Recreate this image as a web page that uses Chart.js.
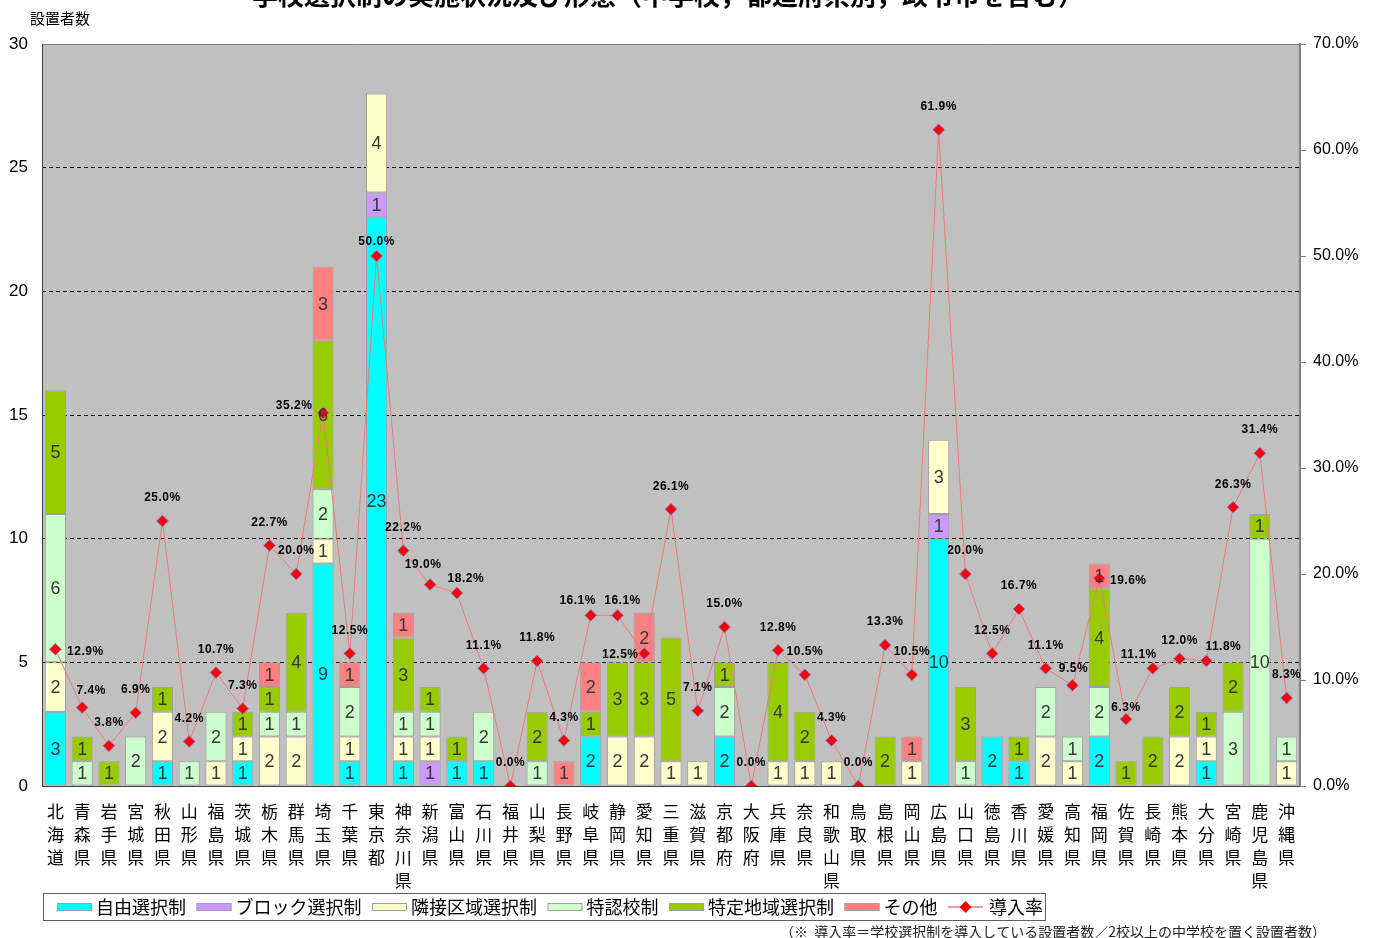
<!DOCTYPE html>
<html><head><meta charset="utf-8">
<script src="https://cdn.jsdelivr.net/npm/chart.js@4/dist/chart.umd.min.js"></script>
<style>html,body{margin:0;padding:0;background:#fff;overflow:hidden}</style>
</head><body><canvas id="c" width="1373" height="938"></canvas>
<script>
const prefectures = ['北海道','青森県','岩手県','宮城県','秋田県','山形県','福島県','茨城県','栃木県','群馬県','埼玉県','千葉県','東京都','神奈川県','新潟県','富山県','石川県','福井県','山梨県','長野県','岐阜県','静岡県','愛知県','三重県','滋賀県','京都府','大阪府','兵庫県','奈良県','和歌山県','鳥取県','島根県','岡山県','広島県','山口県','徳島県','香川県','愛媛県','高知県','福岡県','佐賀県','長崎県','熊本県','大分県','宮崎県','鹿児島県','沖縄県'];
const jiyu     = [3,0,0,0,1,0,0,1,0,0,9,1,23,1,0,1,1,0,0,0,2,0,0,0,0,2,0,0,0,0,0,0,0,10,0,2,1,0,0,2,0,0,0,1,0,0,0];
const block    = [0,0,0,0,0,0,0,0,0,0,0,0,1,0,1,0,0,0,0,0,0,0,0,0,0,0,0,0,0,0,0,0,0,1,0,0,0,0,0,0,0,0,0,0,0,0,0];
const rinsetsu = [2,0,0,0,2,0,1,1,2,2,1,1,4,1,1,0,0,0,0,0,0,2,2,1,1,0,0,1,1,1,0,0,1,3,0,0,0,2,1,0,0,0,2,1,0,0,1];
const tokunin  = [6,1,0,2,0,1,2,0,1,1,2,2,0,1,1,0,2,0,1,0,0,0,0,0,0,2,0,0,0,0,0,0,0,0,1,0,0,2,1,2,0,0,0,0,3,10,1];
const tokutei  = [5,1,1,0,1,0,0,1,1,4,6,0,0,3,1,1,0,0,2,0,1,3,3,5,0,1,0,4,2,0,0,2,0,0,3,0,1,0,0,4,1,2,2,1,2,1,0];
const sonota   = [0,0,0,0,0,0,0,0,1,0,3,1,0,1,0,0,0,0,0,1,2,0,2,0,0,0,0,0,0,0,0,0,1,0,0,0,0,0,0,1,0,0,0,0,0,0,0];
const rates    = [12.9,7.4,3.8,6.9,25.0,4.2,10.7,7.3,22.7,20.0,35.2,12.5,50.0,22.2,19.0,18.2,11.1,0.0,11.8,4.3,16.1,16.1,12.5,26.1,7.1,15.0,0.0,12.8,10.5,4.3,0.0,13.3,10.5,61.9,20.0,12.5,16.7,11.1,9.5,19.6,6.3,11.1,12.0,11.8,26.3,31.4,8.3];
const leftTicks = [0,5,10,15,20,25,30];
const rightTicks = [0,10,20,30,40,50,60,70];
const seriesNames = ['自由選択制','ブロック選択制','隣接区域選択制','特認校制','特定地域選択制','その他'];
const rateName = '導入率';
const titleText = '学校選択制の実施状況及び形態（中学校，都道府県別，政令市を含む）';
const yTitle = '設置者数';
const footnote = '（※  導入率＝学校選択制を導入している設置者数／2校以上の中学校を置く設置者数）';

const colors = ['#00FFFF','#CC99FF','#FFFFCC','#CCFFCC','#99CC00','#FF8080'];
// label placement tweaks (pixel offsets of the rate label centre from its point)
const rateLabelShift = {0:[30,2],1:[9,-17],10:[-29,-7],12:[0,-14],14:[-7,-20],15:[9,-14],20:[-13,-15],21:[5,-15],22:[-24,1],38:[1,-17],39:[29,2],40:[0,-12],41:[-14,-14],42:[0,-18],43:[17,-14]};
const JP = '"Noto Sans CJK JP","Noto Sans",sans-serif';

const barData = [jiyu, block, rinsetsu, tokunin, tokutei, sonota];
const datasets = barData.map((d,i)=>({
  type:'bar', label:seriesNames[i], data:d, backgroundColor:colors[i],
  borderColor:'#A0A0A0', borderWidth:1, yAxisID:'y', order:1,
  categoryPercentage:1, barPercentage:0.79, borderSkipped:false
}));
datasets.push({
  type:'line', label:rateName, data:rates, yAxisID:'y1', order:0,
  borderColor:'#F07878', borderWidth:1, pointStyle:'rectRot', pointRadius:6,
  pointBackgroundColor:'#FF0000', pointBorderColor:'rgba(130,150,230,0.9)', pointBorderWidth:1, tension:0
});

const deco = {
  id:'deco',
  beforeDraw(chart){
    const {ctx, chartArea:a} = chart;
    ctx.save();
    ctx.fillStyle = '#C0C0C0';
    ctx.fillRect(a.left, a.top, a.right-a.left, a.bottom-a.top);
    ctx.restore();
  },
  afterDatasetsDraw(chart){
    const {ctx, chartArea:a} = chart;
    ctx.save();
    ctx.strokeStyle = '#808080'; ctx.lineWidth = 1;
    ctx.beginPath(); ctx.moveTo(a.left, a.top+0.5); ctx.lineTo(a.right, a.top+0.5); ctx.stroke();
    ctx.strokeStyle = '#404040';
    ctx.beginPath(); ctx.moveTo(a.left+0.5, a.top); ctx.lineTo(a.left+0.5, a.bottom); ctx.stroke();
    ctx.beginPath(); ctx.moveTo(a.left, a.bottom+0.5); ctx.lineTo(a.right, a.bottom+0.5); ctx.stroke();
    ctx.font = '18px "Liberation Sans",Arial,sans-serif';
    ctx.fillStyle = '#383838'; ctx.textAlign = 'center'; ctx.textBaseline = 'middle';
    for (let di=0; di<barData.length; di++){
      const meta = chart.getDatasetMeta(di);
      meta.data.forEach((el,i)=>{
        const v = barData[di][i];
        if (!v) return;
        ctx.fillText(String(v), el.x, (el.y+el.base)/2 + 1);
      });
    }
    const lm = chart.getDatasetMeta(barData.length);
    ctx.font = 'bold 12px "Liberation Sans",Arial,sans-serif';
    try { ctx.letterSpacing = '0.5px'; } catch(e){}
    ctx.fillStyle = '#000'; ctx.textAlign='center';
    lm.data.forEach((pt,i)=>{
      const txt = rates[i].toFixed(1)+'%';
      const s = rateLabelShift[i] || [0,-23];
      ctx.fillText(txt, pt.x + s[0], pt.y + s[1]);
    });
    ctx.restore();
  },
  afterDraw(chart){
    const {ctx} = chart;
    ctx.save();
    ctx.font = 'bold 26px '+JP; ctx.fillStyle='#000'; ctx.textAlign='center'; ctx.textBaseline='bottom';
    ctx.fillText(titleText, 668, 8);
    ctx.font = '15px '+JP; ctx.textAlign='left'; ctx.textBaseline='middle';
    ctx.fillText(yTitle, 30, 18);
    ctx.strokeStyle='#606060'; ctx.lineWidth=1;
    ctx.strokeRect(43.5, 893.5, 1002, 27);
    ctx.font = '18px '+JP; ctx.textBaseline='middle';
    let x = 57; const cy = 907;
    seriesNames.forEach((n,i)=>{
      ctx.fillStyle = colors[i]; ctx.fillRect(x, cy-4, 35, 8);
      ctx.strokeStyle='#A0A0A0'; ctx.strokeRect(x+0.5, cy-3.5, 34, 7);
      ctx.fillStyle='#000'; ctx.fillText(n, x+39, cy);
      x += 39 + ctx.measureText(n).width + 10.5;
    });
    ctx.strokeStyle='#F07878'; ctx.lineWidth=1.5;
    ctx.beginPath(); ctx.moveTo(x, cy); ctx.lineTo(x+35, cy); ctx.stroke();
    ctx.fillStyle='#FF0000';
    ctx.beginPath(); ctx.moveTo(x+17.5, cy-6); ctx.lineTo(x+23.5, cy); ctx.lineTo(x+17.5, cy+6); ctx.lineTo(x+11.5, cy); ctx.closePath(); ctx.fill();
    ctx.fillStyle='#000'; ctx.fillText(rateName, x+41, cy);
    ctx.font = '14px '+JP; ctx.fillStyle='#222';
    ctx.fillText(footnote, 780, 932);
    ctx.restore();
  }
};

new Chart(document.getElementById('c'), {
  data:{ labels: prefectures.map(p=>p.split('')), datasets },
  options:{
    responsive:false, animation:false,
    layout:{padding:{top:44,left:0,right:0,bottom:0}},
    plugins:{legend:{display:false}, tooltip:{enabled:false}, title:{display:false}},
    scales:{
      x:{ stacked:true, offset:true,
        grid:{display:false, drawTicks:false}, border:{display:false},
        ticks:{autoSkip:false, maxRotation:0, minRotation:0, padding:14, color:'#000',
          font:{family:JP, size:17, lineHeight:1.35}},
        afterFit(s){ s.height = 152; } },
      y:{ stacked:true, min:0, max:30, position:'left',
        afterBuildTicks(s){ s.ticks = leftTicks.map(v=>({value:v})); },
        ticks:{ padding:14, color:'#000', font:{family:'"Liberation Sans",Arial', size:17} },
        grid:{ color:c=> (c.tick && (c.tick.value===0||c.tick.value===30)) ? 'rgba(0,0,0,0)' : '#000', lineWidth:1, drawTicks:false },
        border:{display:false, dash:[4,3]},
        afterFit(s){ s.width = 42; } },
      y1:{ min:0, max:70, position:'right',
        afterBuildTicks(s){ s.ticks = rightTicks.map(v=>({value:v})); },
        ticks:{ padding:7, color:'#000', font:{family:'"Liberation Sans",Arial', size:16}, callback:v=>Number(v).toFixed(1)+'%' },
        grid:{ drawOnChartArea:false, drawTicks:true, tickLength:6, color:'#808080' },
        border:{display:true, color:'#808080', width:2},
        afterFit(s){ s.width = 73; } }
    }
  },
  plugins:[deco]
});
</script></body></html>
